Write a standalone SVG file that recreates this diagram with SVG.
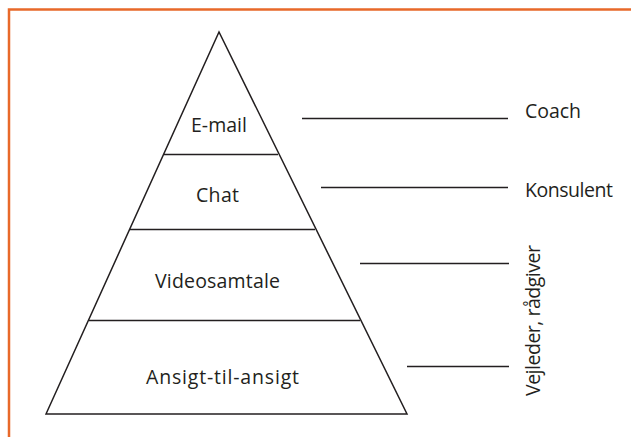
<svg xmlns="http://www.w3.org/2000/svg" width="631" height="437" viewBox="0 0 631 437">
<style>
.frame{fill:none;stroke:#E8692A;stroke-width:2.5}
.ln{stroke:#231F20;stroke-width:1.5;fill:none}
.t{font-family:"Open Sans","Noto Sans","Liberation Sans",sans-serif;font-size:19.5px;fill:#231F20}
.c{text-anchor:middle}
</style>
<rect width="631" height="437" fill="#fff"/>
<path class="frame" d="M9,437 V9.5 H631"/>
<g id="pyramid">
<path class="ln" d="M46,414 L219,32 L407,414 Z"/>
</g>
<g id="email"><line class="ln" x1="164" y1="154.5" x2="278" y2="154.5"/><text class="t c" x="219" y="132" textLength="56" lengthAdjust="spacing">E-mail</text></g>
<g id="chat"><line class="ln" x1="130" y1="229.5" x2="315" y2="229.5"/><text class="t c" x="217.5" y="202" textLength="43" lengthAdjust="spacing">Chat</text></g>
<g id="video"><line class="ln" x1="89" y1="320.5" x2="360" y2="320.5"/><text class="t c" x="217.5" y="288" textLength="125" lengthAdjust="spacing">Videosamtale</text></g>
<g id="ansigt"><text class="t c" x="222.5" y="384" textLength="153" lengthAdjust="spacing">Ansigt-til-ansigt</text></g>
<g id="connectors">
<line class="ln" x1="302" y1="118.5" x2="508" y2="118.5"/>
<line class="ln" x1="321" y1="187.5" x2="508" y2="187.5"/>
<line class="ln" x1="360" y1="263.5" x2="509" y2="263.5"/>
<line class="ln" x1="407" y1="366.5" x2="509" y2="366.5"/>
</g>
<g id="coach"><text class="t" x="525" y="118" textLength="56" lengthAdjust="spacing">Coach</text></g>
<g id="konsulent"><text class="t" x="525" y="197" textLength="88" lengthAdjust="spacing">Konsulent</text></g>
<g id="vejleder"><text class="t" transform="translate(540,396) rotate(-90)" x="0" y="0" textLength="151" lengthAdjust="spacing">Vejleder, rådgiver</text></g>
</svg>
